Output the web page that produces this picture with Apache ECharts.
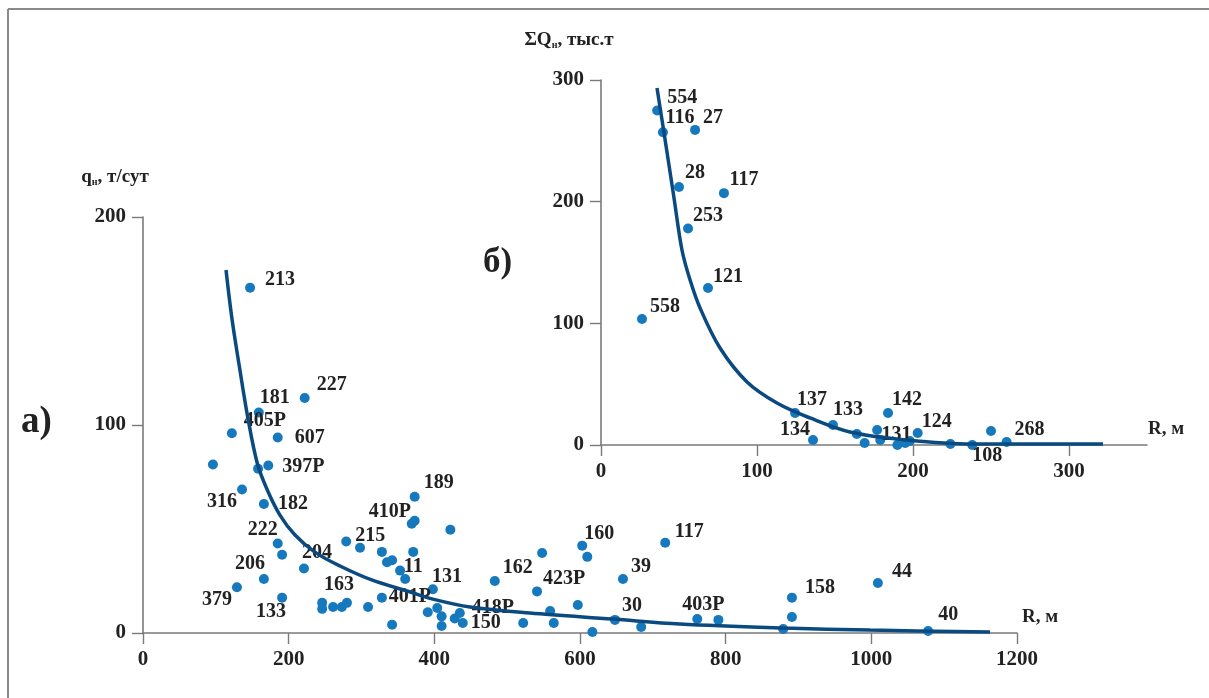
<!DOCTYPE html>
<html>
<head>
<meta charset="utf-8">
<script src="https://cdn.jsdelivr.net/npm/echarts@6/dist/echarts.min.js"></script>
<style>
  html, body { margin: 0; background: #fff; }
  #chart { width: 1209px; height: 698px; }
</style>
</head>
<body>
<div id="chart"></div>
<script>
// а) debit q (т/сут) vs distance R (м)
const mainR = [147, 222, 159, 122, 185, 96, 158, 172, 136, 166, 185, 191, 221, 166, 129, 191,
  246, 246, 261, 273, 280, 309, 279, 298, 328, 335, 342, 353, 360, 369, 373, 373, 422, 371,
  328, 342, 398, 391, 404, 410, 410, 428, 435, 439, 483, 548, 541, 522, 559, 564, 597, 603,
  610, 617, 659, 648, 684, 717, 761, 790, 879, 891, 891, 1009, 1078];
const mainQ = [166, 113, 106, 96, 94, 81, 79, 80.5, 69, 62, 43, 37.6, 31, 26, 22, 17,
  14.5, 11.6, 12.5, 12.5, 14.5, 12.5, 44, 41, 39, 34, 35, 30, 26, 52.5, 54, 65.5, 49.6, 39,
  17, 4, 21, 10, 12, 8, 3.4, 7, 9.6, 4.8, 25, 38.5, 20, 4.8, 10.6, 4.8, 13.5, 42,
  36.6, 0.5, 26, 6.3, 2.9, 43.4, 6.7, 6.3, 1.9, 17, 7.7, 24, 1];
const mainWell = ['213', '227', '181', '405Р', '607', '', '', '397Р', '316', '182', '222', '', '204', '206', '379', '133',
  '', '', '163', '', '', '', '215', '', '', '', '', '', '11', '410Р', '', '189', '', '',
  '401Р', '', '131', '', '', '', '', '', '418Р', '150', '162', '', '423Р', '', '', '', '', '160',
  '', '', '39', '30', '', '117', '403Р', '', '', '158', '', '44', '40'];
// fitted curve
const mainCurveR = [114, 122, 132, 144, 157, 171, 188, 208.7, 236, 270.5, 314, 367, 398, 449, 531, 645, 737, 879, 998, 1163];
const mainCurveQ = [174.5, 151.4, 128.8, 103.4, 81.5, 68.5, 56.7, 47.1, 38.9, 32.2, 25.5, 19.7, 16.3, 12.5, 9.6, 6.7, 4.3, 2.4, 1.4, 0.5];

// б) cumulative production ΣQ (тыс.т) vs R (м)
const insetR = [36, 39.7, 60.3, 50, 78.8, 55.8, 68.6, 26.3, 124.4, 148.7, 135.9, 164, 169, 177, 179,
  184, 190, 195, 198, 203, 224, 238, 250, 260];
const insetQ = [275, 257, 259, 212, 207, 178, 129, 103.6, 26.3, 16.4, 4.1, 9, 1.6, 12.3, 4.1,
  26.3, 0, 1.6, 3.3, 9.9, 0.8, 0, 11.5, 2.5];
const insetWell = ['554', '116', '27', '28', '117', '253', '121', '558', '137', '133', '134', '', '', '', '',
  '142', '131', '', '', '124', '', '108', '', '268'];
const insetCurveR = [35.9, 41.7, 46.8, 51.9, 57.1, 63.5, 76.3, 93.6, 112.8, 134, 159.6, 196, 238.5, 321.8];
const insetCurveQ = [293.4, 245.7, 203, 160.3, 135.6, 112.6, 79.7, 51.8, 34.5, 22.2, 10.7, 4.1, 0.8, 0.8];

const xTicksMain = [0, 200, 400, 600, 800, 1000, 1200];
const yTicksMain = [0, 100, 200];
const xTicksInset = [0, 100, 200, 300];
const yTicksInset = [0, 100, 200, 300];

// label placement (px offset of text centre from the dot)
const mainLabelShift = {
  '213': [30, -8], '227': [27, -13], '181': [16, -15], '405Р': [33, -12], '607': [32, 0],
  '397Р': [35, 1], '316': [-20, 12], '182': [29, 0], '222': [-15, -14], '204': [13, -16],
  '206': [-14, -15], '379': [-20, 13], '133': [-11, 14], '163': [6, -22], '215': [24, -6],
  '410Р': [-22, -12], '189': [24, -14], '11': [8, -12], '131': [14, -12], '401Р': [28, -1],
  '418Р': [33, -5], '150': [23, 0], '162': [23, -13], '423Р': [27, -13], '160': [17, -12],
  '39': [18, -12], '30': [17, -14], '117': [24, -11], '403Р': [6, -14], '158': [28, -10],
  '44': [24, -11], '40': [20, -16]
};
const insetLabelShift = {
  '554': [25, -13], '116': [17, -14], '27': [18, -12], '28': [16, -14], '117': [20, -13],
  '253': [20, -13], '121': [20, -11], '558': [23, -12], '137': [17, -13], '133': [15, -15],
  '134': [-18, -10], '142': [19, -13], '131': [-1, -10], '124': [19, -11], '108': [15, 11],
  '268': [23, -12]
};

const SERIF = '"Liberation Serif", "Times New Roman", serif';
const TEXT = '#222';
const AXIS = '#7a7a7a';
const DOT = '#1679bd';
const CURVE = '#0b4a80';

function pts(xs, ys, names, shift) {
  return xs.map((x, i) => {
    const n = names ? names[i] : '';
    const item = { value: [x, ys[i]], name: n };
    if (n) {
      item.label = { show: true, position: 'inside', offset: shift[n] || [20, -12], formatter: n };
    }
    return item;
  });
}

function xAxisOf(grid, max, ticks, nameGap) {
  return {
    type: 'value', gridIndex: grid, min: 0, max: max, interval: ticks[1] - ticks[0],
    axisLine: { show: true, onZero: false, lineStyle: { color: AXIS, width: 1.6 } },
    axisTick: { show: true, length: 11, customValues: ticks, lineStyle: { color: AXIS, width: 1.4 } },
    axisLabel: {
      customValues: ticks, margin: 16, color: TEXT, fontFamily: SERIF, fontWeight: 'bold', fontSize: 21,
      formatter: (v) => String(v)
    },
    splitLine: { show: false },
    name: 'R, м', nameLocation: 'end', nameGap: nameGap,
    nameTextStyle: {
      color: TEXT, fontFamily: SERIF, fontWeight: 'bold', fontSize: 19,
      align: 'left', verticalAlign: 'bottom', padding: [0, 0, 6, 0]
    }
  };
}

function yAxisOf(grid, max, ticks, name, shiftLeft) {
  return {
    type: 'value', gridIndex: grid, min: 0, max: max, interval: ticks[1] - ticks[0],
    axisLine: { show: true, onZero: false, lineStyle: { color: AXIS, width: 1.6 } },
    axisTick: { show: true, length: 11, customValues: ticks, lineStyle: { color: AXIS, width: 1.4 } },
    axisLabel: {
      customValues: ticks, margin: 17, color: TEXT, fontFamily: SERIF, fontWeight: 'bold', fontSize: 21,
      formatter: (v) => String(v)
    },
    splitLine: { show: false },
    name: name, nameLocation: 'end', nameGap: 30,
    nameTextStyle: {
      color: TEXT, fontFamily: SERIF, fontWeight: 'bold', fontSize: 19,
      padding: [0, shiftLeft, 0, 0],
      rich: {
        t: { color: TEXT, fontFamily: SERIF, fontWeight: 'bold', fontSize: 19 },
        s: { color: TEXT, fontFamily: SERIF, fontWeight: 'bold', fontSize: 10, padding: [10, 0, 0, 0] }
      }
    }
  };
}

const labelStyle = { color: TEXT, fontFamily: SERIF, fontWeight: 'bold', fontSize: 20 };

const chart = echarts.init(document.getElementById('chart'), null, { renderer: 'canvas' });
chart.setOption({
  animation: false,
  backgroundColor: '#fff',
  grid: [
    { left: 143, right: 192, top: 217, bottom: 65, outerBoundsMode: 'none' },
    { left: 601, right: 62, top: 80, bottom: 253, outerBoundsMode: 'none' }
  ],
  xAxis: [
    xAxisOf(0, 1200, xTicksMain, 5),
    xAxisOf(1, 350, xTicksInset, 1)
  ],
  yAxis: [
    yAxisOf(0, 200, yTicksMain, '{t|q}{s|н}{t|, т/сут}', 56),
    yAxisOf(1, 300, yTicksInset, '{t|ΣQ}{s|н}{t|, тыс.т}', 64)
  ],
  graphic: [
    { type: 'line', shape: { x1: 8, y1: 9, x2: 1209, y2: 9 }, style: { stroke: '#8a8a8a', lineWidth: 2 } },
    { type: 'line', shape: { x1: 8, y1: 9, x2: 8, y2: 698 }, style: { stroke: '#8a8a8a', lineWidth: 2 } },
    { type: 'text', left: 21, top: 404, style: { text: 'а)', font: 'bold 37px ' + SERIF, fill: TEXT } },
    { type: 'text', left: 483, top: 245, style: { text: 'б)', font: 'bold 35px ' + SERIF, fill: TEXT } }
  ],
  series: [
    {
      type: 'scatter', xAxisIndex: 0, yAxisIndex: 0, symbolSize: 10, z: 2,
      itemStyle: { color: DOT, opacity: 1 },
      label: labelStyle,
      data: pts(mainR, mainQ, mainWell, mainLabelShift)
    },
    {
      type: 'line', xAxisIndex: 0, yAxisIndex: 0, symbol: 'none', smooth: 0.35, z: 3,
      lineStyle: { color: CURVE, width: 3.5 },
      data: mainCurveR.map((x, i) => [x, mainCurveQ[i]])
    },
    {
      type: 'scatter', xAxisIndex: 1, yAxisIndex: 1, symbolSize: 10, z: 2,
      itemStyle: { color: DOT, opacity: 1 },
      label: labelStyle,
      data: pts(insetR, insetQ, insetWell, insetLabelShift)
    },
    {
      type: 'line', xAxisIndex: 1, yAxisIndex: 1, symbol: 'none', smooth: 0.35, z: 3,
      lineStyle: { color: CURVE, width: 3.5 },
      data: insetCurveR.map((x, i) => [x, insetCurveQ[i]])
    }
  ]
});
</script>
</body>
</html>
